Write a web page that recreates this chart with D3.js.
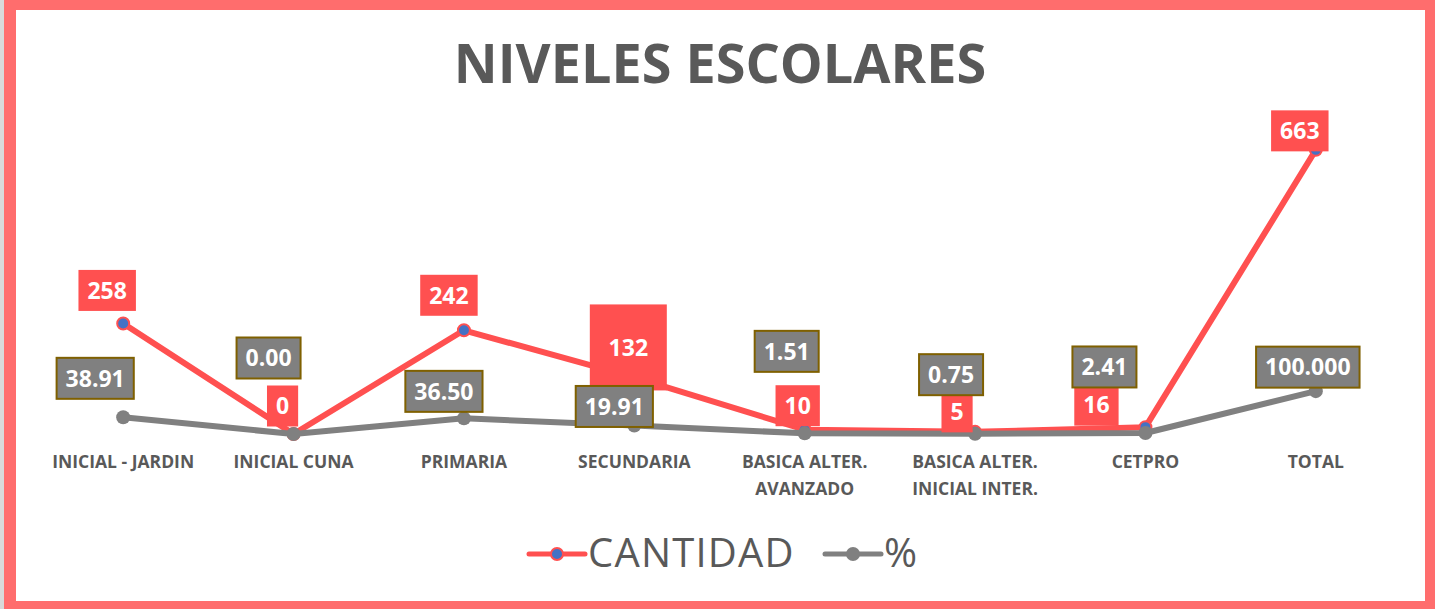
<!DOCTYPE html>
<html>
<head>
<meta charset="utf-8">
<script src="https://cdn.jsdelivr.net/npm/d3@7"></script>
<style>
  html, body { margin: 0; padding: 0; background: #fff; }
  svg { display: block; }
</style>
</head>
<body>
<div id="chart"></div>
<script>
// data
const categories = [
  ['INICIAL - JARDIN'],
  ['INICIAL CUNA'],
  ['PRIMARIA'],
  ['SECUNDARIA'],
  ['BASICA ALTER.', 'AVANZADO'],
  ['BASICA ALTER.', 'INICIAL INTER.'],
  ['CETPRO'],
  ['TOTAL']
];
const cantidad = [258, 0, 242, 132, 10, 5, 16, 663];
const porcentaje = [38.91, 0.00, 36.50, 19.91, 1.51, 0.75, 2.41, 100.000];
const porcentajeLabels = ['38.91', '0.00', '36.50', '19.91', '1.51', '0.75', '2.41', '100.000'];
const seriesNames = ['CANTIDAD', '%'];

// label placement (moved by hand in the original), offsets of box centre from point
const cantidadLabelPos = [
  {dx: -16, dy: -33}, {dx: -11, dy: -28}, {dx: -15, dy: -35}, {dx: -6, dy: -30, w: 77, h: 86},
  {dx: -7, dy: -24}, {dx: -18, dy: -20}, {dx: -49, dy: -22}, {dx: -16, dy: -19}
];
const porcentajeLabelPos = [
  {dx: -28, dy: -39}, {dx: -25, dy: -76}, {dx: -20, dy: -27}, {dx: -20, dy: -19},
  {dx: -18, dy: -82}, {dx: -24, dy: -59}, {dx: -41, dy: -66}, {dx: -8, dy: -24}
];

const W = 1435, H = 609;
const font = "'Open Sans', 'Noto Sans', sans-serif";
const red = '#FF5050', grey = '#808080', blue = '#4472C4', textGrey = '#595959';

const svg = d3.select('#chart').append('svg')
  .attr('width', W)
  .attr('height', H);

// frame
svg.append('rect').attr('x', 0).attr('y', 0).attr('width', W).attr('height', H).attr('fill', '#FF6D6D');
svg.append('rect').attr('x', 0).attr('y', 0).attr('width', 4).attr('height', H).attr('fill', '#D9D9D9');
svg.append('rect').attr('x', 16).attr('y', 10).attr('width', 1409).attr('height', 591).attr('fill', '#fff');

// title
svg.append('text')
  .attr('x', 720)
  .attr('y', 83)
  .attr('text-anchor', 'middle')
  .style('font-family', font)
  .style('font-weight', 700)
  .style('font-size', '54px')
  .attr('fill', textGrey)
  .text('NIVELES ESCOLARES');

// scales
const xScale = d3.scaleBand()
  .domain(d3.range(categories.length))
  .range([38, 1401]);
const cx = i => xScale(i) + xScale.bandwidth() / 2;

const yScale = d3.scaleLinear()
  .domain([0, 700])
  .range([434, 134]);

// category axis labels
const xAxis = svg.append('g').attr('class', 'x-axis');
categories.forEach((lines, i) => {
  const t = xAxis.append('text')
    .attr('x', cx(i))
    .attr('y', 468)
    .attr('text-anchor', 'middle')
    .style('font-family', font)
    .style('font-weight', 700)
    .style('font-size', '17.5px')
    .attr('fill', textGrey);
  lines.forEach((l, j) => {
    t.append('tspan').attr('x', cx(i)).attr('dy', j === 0 ? 0 : 27).text(l);
  });
});

const line = d3.line()
  .x((d, i) => cx(i))
  .y(d => yScale(d));

// CANTIDAD series
svg.append('path')
  .datum(cantidad)
  .attr('d', line)
  .attr('fill', 'none')
  .attr('stroke', red)
  .attr('stroke-width', 6)
  .attr('stroke-linejoin', 'round');
svg.selectAll('.pt-cant')
  .data(cantidad)
  .enter()
  .append('circle')
  .attr('class', 'pt-cant')
  .attr('cx', (d, i) => cx(i))
  .attr('cy', d => yScale(d))
  .attr('r', 6)
  .attr('fill', blue)
  .attr('stroke', red)
  .attr('stroke-width', 2);

// % series
svg.append('path')
  .datum(porcentaje)
  .attr('d', line)
  .attr('fill', 'none')
  .attr('stroke', grey)
  .attr('stroke-width', 6)
  .attr('stroke-linejoin', 'round');
svg.selectAll('.pt-pct')
  .data(porcentaje)
  .enter()
  .append('circle')
  .attr('class', 'pt-pct')
  .attr('cx', (d, i) => cx(i))
  .attr('cy', d => yScale(d))
  .attr('r', 7)
  .attr('fill', grey);

// data labels
function addLabels(values, texts, pos, fill, stroke) {
  const g = svg.append('g');
  values.forEach((v, i) => {
    const px = cx(i) + pos[i].dx;
    const py = yScale(v) + pos[i].dy;
    const lg = g.append('g');
    const rect = lg.append('rect');
    const t = lg.append('text')
      .attr('x', px)
      .attr('y', py)
      .attr('dy', '0.36em')
      .attr('text-anchor', 'middle')
      .style('font-family', font)
      .style('font-weight', 700)
      .style('font-size', '23px')
      .attr('fill', '#fff')
      .text(texts[i]);
    const tw = t.node().getComputedTextLength();
    const w = pos[i].w || tw + 18;
    const h = pos[i].h || 41;
    rect.attr('x', px - w / 2)
      .attr('y', py - h / 2)
      .attr('width', w)
      .attr('height', h)
      .attr('fill', fill);
    if (stroke) rect.attr('stroke', stroke).attr('stroke-width', 2);
  });
}
addLabels(cantidad, cantidad.map(String), cantidadLabelPos, red, null);
addLabels(porcentaje, porcentajeLabels, porcentajeLabelPos, grey, '#7F6000');

// legend
const legend = svg.append('g').attr('class', 'legend');
const legendItems = [
  {name: seriesNames[0], x: 529, color: red, marker: blue, r: 6, sw: 2, ls: 1.2},
  {name: seriesNames[1], x: 825, color: grey, marker: grey, r: 7, sw: 0, ls: 0}
];
legendItems.forEach(it => {
  legend.append('line')
    .attr('x1', it.x).attr('x2', it.x + 56)
    .attr('y1', 554).attr('y2', 554)
    .attr('stroke', it.color)
    .attr('stroke-width', 5)
    .attr('stroke-linecap', 'round');
  legend.append('circle')
    .attr('cx', it.x + 28).attr('cy', 554)
    .attr('r', it.r)
    .attr('fill', it.marker)
    .attr('stroke', it.sw ? it.color : 'none')
    .attr('stroke-width', it.sw);
  legend.append('text')
    .attr('x', it.x + 59)
    .attr('y', 567)
    .style('font-family', font)
    .style('font-size', '40px')
    .style('letter-spacing', it.ls + 'px')
    .attr('fill', textGrey)
    .text(it.name);
});
</script>
</body>
</html>
